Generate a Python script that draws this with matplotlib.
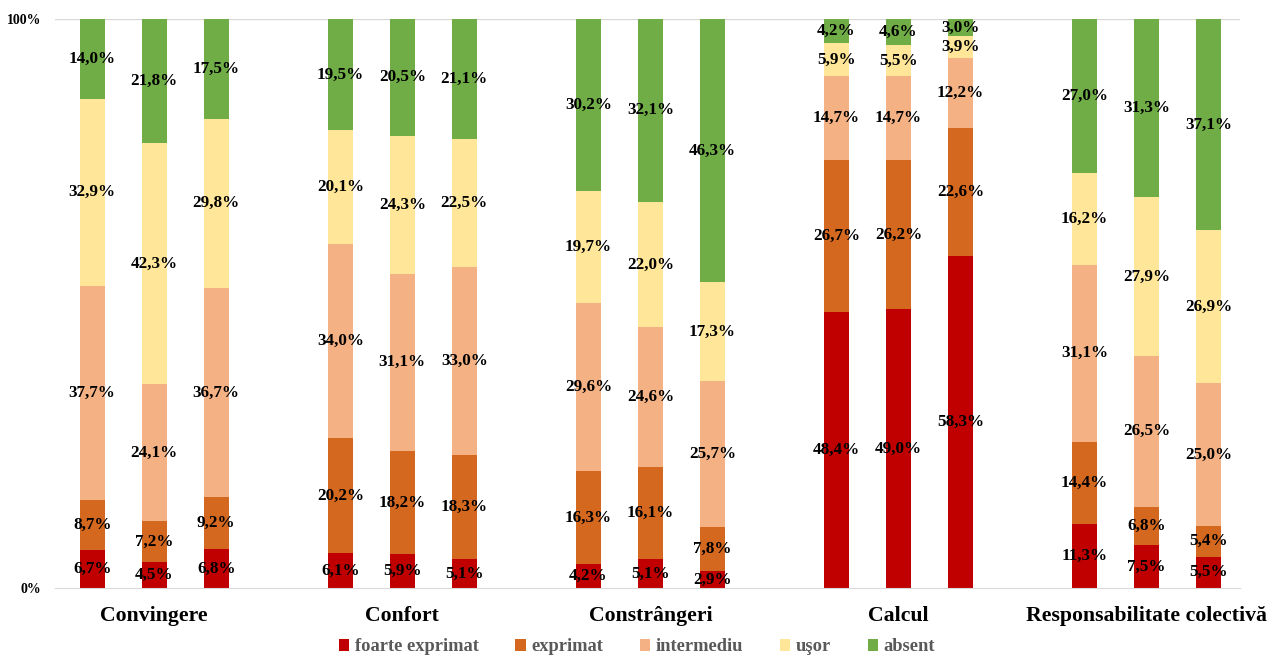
import numpy as np
import matplotlib.pyplot as plt
from matplotlib.patches import Patch

plt.rcParams['font.family'] = ['Liberation Serif', 'DejaVu Serif']
plt.rcParams['font.weight'] = 'bold'

groups = ['Convingere', 'Confort', 'Constrângeri', 'Calcul', 'Responsabilitate colectivă']
levels = ['foarte exprimat', 'exprimat', 'intermediu', 'uşor', 'absent']
colors = ['#C00000', '#D5681F', '#F4B183', '#FFE699', '#70AD47']

# pentru fiecare grup: 3 bare, fiecare cu nivelurile de jos în sus
convingere = [[6.7, 8.7, 37.7, 32.9, 14.0],
              [4.5, 7.2, 24.1, 42.3, 21.8],
              [6.8, 9.2, 36.7, 29.8, 17.5]]
confort = [[6.1, 20.2, 34.0, 20.1, 19.5],
           [5.9, 18.2, 31.1, 24.3, 20.5],
           [5.1, 18.3, 33.0, 22.5, 21.1]]
constrangeri = [[4.2, 16.3, 29.6, 19.7, 30.2],
                [5.1, 16.1, 24.6, 22.0, 32.1],
                [2.9, 7.8, 25.7, 17.3, 46.3]]
calcul = [[48.4, 26.7, 14.7, 5.9, 4.2],
          [49.0, 26.2, 14.7, 5.5, 4.6],
          [58.3, 22.6, 12.2, 3.9, 3.0]]
responsabilitate = [[11.3, 14.4, 31.1, 16.2, 27.0],
                    [7.5, 6.8, 26.5, 27.9, 31.3],
                    [5.5, 5.4, 25.0, 26.9, 37.1]]

data = [convingere, confort, constrangeri, calcul, responsabilitate]

fig = plt.figure(figsize=(12.74, 6.64), dpi=100)
ax = fig.add_axes([0.0432, 0.1145, 0.9298, 0.857])

width = 0.41
for g, grp in enumerate(data):
    for i, vals in enumerate(grp):
        x = g * 4 + (i - 1)
        vals = np.array(vals)
        share = vals / vals.sum()
        bottom = 0.0
        for k, (v, s) in enumerate(zip(vals, share)):
            ax.bar(x, s, width, bottom=bottom, color=colors[k], edgecolor='none')
            ax.text(x, bottom + s / 2, f'{v:.1f}%'.replace('.', ','),
                    ha='center', va='center', fontsize=12.3, fontweight='bold')
            bottom += s

ax.set_xlim(-1.6, 17.5)
ax.set_ylim(0, 1)
ax.set_yticks([0, 1])
ax.set_yticklabels(['0%', '100%'], fontsize=10, fontweight='bold')
ax.set_xticks([g * 4 for g in range(len(groups))])
ax.set_xticklabels(groups, fontsize=15.7, fontweight='bold')
ax.tick_params(axis='both', length=0)
ax.tick_params(axis='x', pad=13)
ax.tick_params(axis='y', pad=10)
for s in ['left', 'right', 'top']:
    ax.spines[s].set_visible(False)
ax.spines['bottom'].set_color('#D9D9D9')
ax.axhline(1, color='#D9D9D9', lw=1, zorder=0)

handles = [Patch(facecolor=c, label=l) for c, l in zip(colors, levels)]
leg = fig.legend(handles=handles, loc='lower center', bbox_to_anchor=(0.5, -0.012),
                 ncol=5, frameon=False, fontsize=13.3, handlelength=0.55, handleheight=0.6,
                 handletextpad=0.3, columnspacing=2.0)
for t in leg.get_texts():
    t.set_color('#595959')
    t.set_fontweight('bold')

fig.savefig('out.png', dpi=100)
